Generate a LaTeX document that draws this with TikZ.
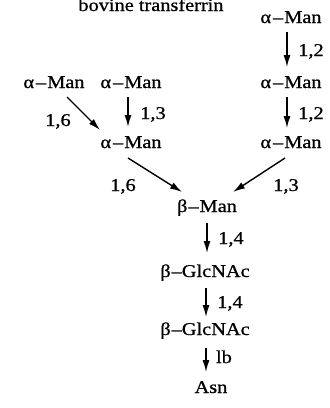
\documentclass[tikz,border=0pt]{standalone}
\usepackage{fontspec}
\setmainfont[FakeStretch=1.13,FakeBold=0.8]{Liberation Serif}
\usetikzlibrary{arrows.meta}
\begin{document}
\begin{tikzpicture}[x=1pt,y=-1pt,
  sug/.style={font=\fontsize{18}{21}\selectfont, inner sep=0pt, anchor=base},
  lab/.style={font=\fontsize{18}{21}\selectfont, inner sep=0pt, anchor=base},
  arr/.style={line width=1.4pt, -{Latex[length=12pt,width=7pt]}}]
\useasboundingbox (0,0) rectangle (330,408);
\newcommand{\am}{α\hspace{2pt}–\hspace{1pt}Man}
\node[sug] (t) at (151,11) {bovine transferrin};
\node[sug] (r1) at (291,23) {\am};
\node[sug] (r2) at (291,88) {\am};
\node[sug] (r3) at (291,148) {\am};
\node[sug] (l1) at (54,88) {\am};
\node[sug] (m1) at (131,88) {\am};
\node[sug] (m2) at (131,148) {\am};
\node[sug] (b) at (207,212) {β\hspace{1pt}–\hspace{1pt}Man};
\node[sug] (g1) at (205,277) {β\hspace{1pt}–GlcNAc};
\node[sug] (g2) at (205,335) {β\hspace{1pt}–GlcNAc};
\node[sug] (asn) at (211,393) {Asn};
\node[lab] (a) at (311,56) {1,2};
\node[lab] (c) at (311,119) {1,2};
\node[lab] (d) at (58,126) {1,6};
\node[lab] (e) at (153,119) {1,3};
\node[lab] (f) at (123,191) {1,6};
\node[lab] (g) at (286,191) {1,3};
\node[lab] (h) at (231,244) {1,4};
\node[lab] (i) at (230,308) {1,4};
\node[lab] (j) at (224,363) {lb};
\draw[arr] ([shift={(-4,9)}]r1.base) -- ([shift={(-4,-21)}]r2.base);
\draw[arr] ([shift={(-4,9)}]r2.base) -- ([shift={(-4,-20)}]r3.base);
\draw[arr] ([shift={(-3,9)}]m1.base) -- ([shift={(-3,-21)}]m2.base);
\draw[arr] ([shift={(13,9)}]l1.base) -- ([shift={(-31,-18)}]m2.base);
\draw[arr] ([shift={(-3,10)}]m2.base) -- ([shift={(-25,-20)}]b.base);
\draw[arr] ([shift={(-6,10)}]r3.base) -- ([shift={(26,-20)}]b.base);
\draw[arr] ([shift={(0,11)}]b.base) -- ([shift={(2,-24)}]g1.base);
\draw[arr] ([shift={(1,11)}]g1.base) -- ([shift={(1,-18)}]g2.base);
\draw[arr] ([shift={(1,13)}]g2.base) -- ([shift={(-5,-21)}]asn.base);
\end{tikzpicture}
\end{document}
